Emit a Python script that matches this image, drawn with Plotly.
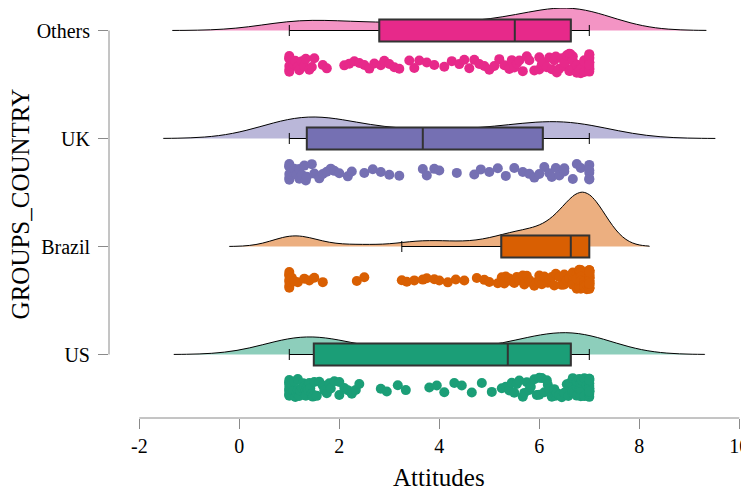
import plotly.graph_objects as go

# ---------------- data ----------------
groups = ["US", "Brazil", "UK", "Others"]
positions = [1, 2, 3, 4]

us_values = [1.0]*10 + [1.05, 1.08, 1.1, 1.12, 1.15, 1.17, 1.17, 1.2, 1.22, 1.25, 1.28, 1.3, 1.33, 1.33, 1.35,
             1.38, 1.4, 1.42, 1.45, 1.47,
             1.5, 1.55, 1.6, 1.67, 1.7, 1.75, 1.8, 1.83, 1.9, 2.0, 2.0, 2.1, 2.17, 2.25, 2.33, 2.4,
             2.83, 2.95, 3.17, 3.33, 3.8, 3.95, 4.1, 4.3, 4.45, 4.65, 4.85, 5.05, 5.25,
             5.33, 5.4, 5.45, 5.5, 5.55, 5.6, 5.67, 5.7, 5.75, 5.8, 5.83, 5.9, 5.95, 6.0, 6.0, 6.05,
             6.1, 6.15, 6.17, 6.2, 6.25, 6.3, 6.33, 6.35, 6.4, 6.45, 6.5, 6.55, 6.58, 6.6, 6.62,
             6.67, 6.67, 6.67, 6.67, 6.7, 6.75, 6.75, 6.75, 6.8, 6.8, 6.83, 6.83, 6.83, 6.85, 6.9, 6.9, 6.95] + [7.0]*13

brazil_values = [1.0]*7 + [1.05, 1.1, 1.17, 1.3, 1.4, 1.5, 1.67, 2.35, 2.5,
                 3.25, 3.35, 3.5, 3.67, 3.75, 3.9, 4.0, 4.17, 4.33, 4.5, 4.75, 4.9, 5.0, 5.17,
                 5.25, 5.3, 5.33, 5.4, 5.45, 5.5, 5.55, 5.6, 5.67, 5.7, 5.75, 5.8, 5.83, 5.9, 5.95,
                 6.0, 6.0, 6.05, 6.1, 6.17, 6.2, 6.25, 6.3, 6.33, 6.4, 6.45, 6.5, 6.5, 6.55, 6.6] \
    + [6.67]*5 + [6.75]*5 + [6.8]*4 + [6.83]*6 + [6.9]*4 + [6.95]*2 + [7.0]*34

uk_values = [1.0]*6 + [1.05, 1.1, 1.15, 1.2, 1.2, 1.25, 1.3, 1.33, 1.35,
             1.45, 1.5, 1.6, 1.67, 1.75, 1.83, 1.9, 2.0, 2.17, 2.25, 2.5, 2.67, 2.83, 3.0, 3.2,
             3.67, 3.75, 3.9, 4.0, 4.35, 4.7, 4.83, 5.0, 5.17, 5.33, 5.5, 5.67, 5.8, 5.9, 6.0,
             6.1, 6.2, 6.25, 6.33, 6.4, 6.5, 6.5, 6.67, 6.75, 6.83] + [7.0]*5

others_values = [1.0]*6 + [1.08, 1.12, 1.17, 1.2, 1.25, 1.3, 1.33, 1.4, 1.45, 1.5, 1.67, 1.75,
                 2.1, 2.2, 2.3, 2.4, 2.5, 2.6, 2.7,
                 2.83, 2.9, 3.0, 3.1, 3.2, 3.4, 3.5, 3.6, 3.75, 3.9, 4.1, 4.25, 4.4, 4.5, 4.6, 4.7,
                 4.8, 4.9, 5.0, 5.1, 5.2, 5.3, 5.4, 5.45, 5.5,
                 5.55, 5.6, 5.67, 5.75, 5.8, 5.9, 6.0, 6.0, 6.05, 6.1, 6.15, 6.2, 6.25, 6.3, 6.33,
                 6.35, 6.4, 6.45, 6.5, 6.5, 6.55, 6.6, 6.6, 6.62, 6.62] \
    + [6.67]*3 + [6.75]*3 + [6.8]*2 + [6.83]*3 + [6.9]*3 + [7.0]*11

values = [us_values, brazil_values, uk_values, others_values]

# box statistics
q1 = [1.49, 5.24, 1.35, 2.80]
median = [5.37, 6.63, 3.67, 5.51]
q3 = [6.63, 7.00, 6.07, 6.63]
lowerfence = [1.00, 3.25, 1.00, 1.00]
upperfence = [7.00, 7.00, 7.00, 7.00]

# density bandwidths
bandwidths = [0.77, 0.40, 0.84, 0.78]

x_ticks = [-2, 0, 2, 4, 6, 8, 10]
x_ticklabels = ["-2", "0", "2", "4", "6", "8", "10"]

# ---------------- style ----------------
dark = ["#1B9E77", "#D95F02", "#7570B3", "#E7298A"]
light = ["#8DCEBB", "#ECAF80", "#BAB7D9", "#F394C4"]
violin_width = [0.404, 1.006, 0.398, 0.415]
FONT = "Liberation Serif"
AXIS_GRAY = "#8a8a8a"

fig = go.Figure()

for i in range(4):
    v = values[i]
    bw = bandwidths[i]
    fig.add_trace(go.Violin(
        x=v, y0=positions[i], orientation="h", side="positive",
        width=violin_width[i], bandwidth=bw, spanmode="manual",
        span=[min(v) - 3 * bw, max(v) + 3 * bw],
        points=False, fillcolor=light[i], opacity=1,
        line=dict(color="black", width=1), showlegend=False,
        hoverinfo="skip",
    ))

for i in range(4):
    # whiskers (thin, with caps)
    fig.add_trace(go.Box(
        y=[positions[i]], q1=[q1[i]], median=[median[i]], q3=[q3[i]],
        lowerfence=[lowerfence[i]], upperfence=[upperfence[i]],
        orientation="h", width=0.204, whiskerwidth=0.5,
        fillcolor=dark[i], line=dict(color="black", width=1),
        boxpoints=False, showlegend=False, hoverinfo="skip",
    ))
    # box body (thicker outline)
    fig.add_trace(go.Box(
        y=[positions[i]], q1=[q1[i]], median=[median[i]], q3=[q3[i]],
        lowerfence=[q1[i]], upperfence=[q3[i]],
        orientation="h", width=0.204, whiskerwidth=0,
        fillcolor=dark[i], line=dict(color="#333333", width=2),
        boxpoints=False, showlegend=False, hoverinfo="skip",
    ))
    # jittered raw points (rain)
    fig.add_trace(go.Box(
        x=values[i], y0=positions[i], orientation="h", width=0.4,
        boxpoints="all", jitter=0.45, pointpos=-1.53,
        fillcolor="rgba(0,0,0,0)", line=dict(color="rgba(0,0,0,0)", width=0),
        marker=dict(color=dark[i], size=10, line=dict(width=0)),
        showlegend=False, hoverinfo="skip",
    ))

fig.add_shape(type="line", xref="x", yref="paper", x0=-2, x1=10, y0=0, y1=0,
              line=dict(color=AXIS_GRAY, width=1))
fig.add_shape(type="line", xref="paper", yref="y", x0=0, x1=0, y0=1, y1=4,
              line=dict(color=AXIS_GRAY, width=1))

fig.add_annotation(text="Attitudes", xref="x", yref="paper", x=4, y=0,
                   yanchor="middle", xanchor="center", yshift=-59, showarrow=False,
                   font=dict(family=FONT, size=25, color="black"))
fig.add_annotation(text="GROUPS_COUNTRY", xref="paper", yref="y", x=0, y=2.39,
                   xanchor="center", yanchor="middle", xshift=-89, textangle=-90,
                   showarrow=False, font=dict(family=FONT, size=25, color="black"))

fig.update_layout(
    width=741, height=483,
    margin=dict(l=101, r=5, t=0, b=73),
    paper_bgcolor="white", plot_bgcolor="white",
    font=dict(family=FONT, size=20, color="black"),
    showlegend=False,
    boxmode="overlay", violinmode="overlay",
    xaxis=dict(range=[-2.606, 10.094], tickvals=x_ticks, ticktext=x_ticklabels,
               ticks="outside", ticklen=10, tickcolor=AXIS_GRAY, tickwidth=1,
               showline=False, showgrid=False, zeroline=False, ticklabeloverflow="allow",
               tickfont=dict(family=FONT, size=20, color="black")),
    yaxis=dict(type="linear", range=[0.412, 4.2083], tickvals=positions, ticktext=groups,
               ticks="outside", ticklen=10, tickcolor=AXIS_GRAY, tickwidth=1,
               showline=False, showgrid=False, zeroline=False, ticklabelstandoff=4,
               tickfont=dict(family=FONT, size=20, color="black")),
)

fig.write_html("out.html")
